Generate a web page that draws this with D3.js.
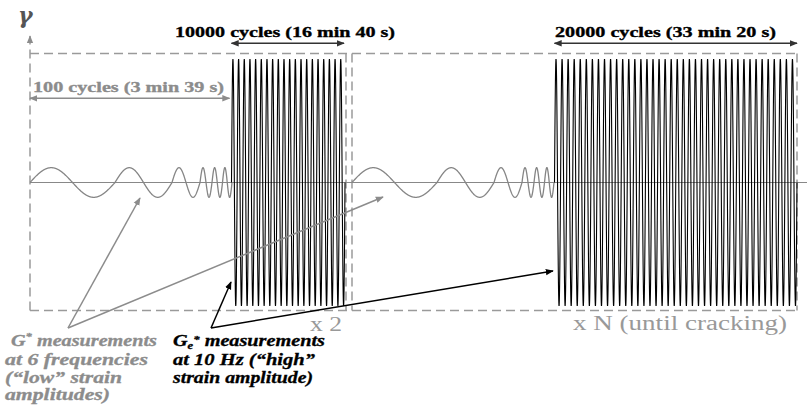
<!DOCTYPE html>
<html>
<head>
<meta charset="utf-8">
<script src="https://cdn.jsdelivr.net/npm/d3@7"></script>
<style>
  body { margin: 0; background: #fff; }
  svg { display: block; }
  svg text { font-family: "Liberation Serif", "Times New Roman", Times, "DejaVu Serif", serif; }
  svg text.gamma { font-family: "DejaVu Serif", serif; }
</style>
</head>
<body>
<div id="chart"></div>
<script>
var svgWidth = 807;
var svgHeight = 407;

// time axis in arbitrary units, strain normalised to the high amplitude
var lowPeriods = [85, 57, 28, 12, 10.5, 9.5];   // one cycle at each of the 6 frequencies
var lowAmplitude = 0.12;
var highAmplitude = 1;
var blockStarts = [0, 322];
var burstStarts = [201.5, 524.5];
var burstEnds = [315, 767];
var burstCycles = [20, 40];
var boxEnds = [316, 767];
var cycleLabels = ["100 cycles (3 min 39 s)", "10000 cycles (16 min 40 s)", "20000 cycles (33 min 20 s)"];
var repeatLabels = ["x 2", "x N (until cracking)"];

var svg = d3.select("#chart")
  .append("svg")
  .attr("width", svgWidth)
  .attr("height", svgHeight);

var x = d3.scaleLinear().domain([0, 777]).range([30, 807]);
var y = d3.scaleLinear().domain([-1, 1]).range([306, 59]);

var gray = "#8c8c8c";
var dashGray = "#9a9a9a";

// markers
var defs = svg.append("defs");
function addMarker(id, color, size) {
  defs.append("marker")
    .attr("id", id)
    .attr("viewBox", "0 0 10 10")
    .attr("refX", 9)
    .attr("refY", 5)
    .attr("markerUnits", "userSpaceOnUse")
    .attr("markerWidth", size)
    .attr("markerHeight", size)
    .attr("orient", "auto-start-reverse")
    .append("path")
    .attr("d", "M0,1 L10,5 L0,9 z")
    .attr("fill", color);
}
addMarker("arrGray", gray, 8);
addMarker("arrBlack", "#000", 8);
addMarker("arrDark", "#333", 8);

var boxTop = 53.5, boxBottom = 310.5;

// dashed frames
var dash = svg.append("g")
  .attr("stroke", dashGray)
  .attr("stroke-width", 1.5)
  .attr("stroke-dasharray", "9,5")
  .attr("fill", "none");

dash.append("line")
  .attr("x1", x(0)).attr("x2", x(0))
  .attr("y1", boxBottom).attr("y2", 36)
  .attr("marker-end", "url(#arrGray)");
dash.append("line")
  .attr("x1", x(0)).attr("x2", x(boxEnds[1]))
  .attr("y1", boxTop).attr("y2", boxTop);
dash.append("line")
  .attr("x1", x(0)).attr("x2", x(boxEnds[1]))
  .attr("y1", boxBottom).attr("y2", boxBottom);
[boxEnds[0], blockStarts[1], boxEnds[1]].forEach(function (t) {
  dash.append("line")
    .attr("x1", x(t)).attr("x2", x(t))
    .attr("y1", boxTop).attr("y2", boxBottom);
});

// time axis
svg.append("line")
  .attr("x1", x(0)).attr("x2", svgWidth)
  .attr("y1", y(0)).attr("y2", y(0))
  .attr("stroke", "#888")
  .attr("stroke-width", 1.2);

var line = d3.line().x(d => x(d[0])).y(d => y(d[1]));

// low strain sweeps
blockStarts.forEach(function (t0) {
  var pts = [];
  var t = t0;
  lowPeriods.forEach(function (p) {
    for (var s = 0; s <= p; s += 0.25) {
      pts.push([t + s, lowAmplitude * Math.sin(2 * Math.PI * s / p)]);
    }
    t += p;
  });
  svg.append("path")
    .attr("d", line(pts))
    .attr("fill", "none")
    .attr("stroke", "#858585")
    .attr("stroke-width", 1.3);
});

// high strain bursts
burstStarts.forEach(function (s0, i) {
  var p = (burstEnds[i] - s0) / burstCycles[i];
  var pts = [];
  for (var s = 0; s <= burstEnds[i] - s0 + 1e-6; s += p / 60) {
    pts.push([s0 + s, highAmplitude * Math.sin(2 * Math.PI * s / p)]);
  }
  svg.append("path")
    .attr("d", line(pts))
    .attr("fill", "none")
    .attr("stroke", "#000")
    .attr("stroke-width", 1.1);
});

// cycle spans
function span(x1, x2, yy, color, marker) {
  svg.append("line")
    .attr("x1", x1).attr("x2", x2)
    .attr("y1", yy).attr("y2", yy)
    .attr("stroke", color)
    .attr("stroke-width", 1.4)
    .attr("marker-start", "url(#" + marker + ")")
    .attr("marker-end", "url(#" + marker + ")");
}
span(x(0), x(burstStarts[0]) - 2, 98.3, gray, "arrGray");
span(x(burstStarts[0]), x(burstEnds[0]) - 1, 43.3, "#333", "arrDark");
span(x(burstStarts[1]), x(boxEnds[1]), 43.3, "#333", "arrDark");

function label(px, py, str, size, color, len, weight) {
  var t = svg.append("text")
    .attr("x", px)
    .attr("y", py)
    .attr("font-size", size)
    .attr("font-weight", weight || "normal")
    .attr("fill", color)
    .attr("textLength", len)
    .attr("lengthAdjust", "spacingAndGlyphs")
    .text(str);
  if (weight) t.attr("stroke", color).attr("stroke-width", 0.35);
  return t;
}
label(33, 92, cycleLabels[0], 15, gray, 191, "bold");
label(175, 37, cycleLabels[1], 15, "#000", 220, "bold");
label(555, 37, cycleLabels[2], 15, "#000", 221, "bold");
label(310, 331, repeatLabels[0], 20, "#999", 32);
label(573, 330, repeatLabels[1], 20, "#999", 214);

// gamma
svg.append("text")
  .attr("class", "gamma")
  .attr("x", 18)
  .attr("y", 23)
  .attr("font-size", 22)
  .attr("font-weight", "bold")
  .attr("font-style", "italic")
  .attr("fill", "#555")
  .text("γ");

// pointer arrows
function pointer(x1, y1, x2, y2, color, marker) {
  svg.append("line")
    .attr("x1", x1).attr("y1", y1)
    .attr("x2", x2).attr("y2", y2)
    .attr("stroke", color)
    .attr("stroke-width", 1.5)
    .attr("marker-end", "url(#" + marker + ")");
}
pointer(68, 328, 140, 198, gray, "arrGray");
pointer(68, 328, 383, 197, gray, "arrGray");
pointer(211, 328, 231, 282, "#000", "arrBlack");
pointer(211, 328, 553, 271, "#000", "arrBlack");

// notes under the chart
function note(px, py, color, len, parts) {
  var t = svg.append("text")
    .attr("x", px)
    .attr("y", py)
    .attr("font-size", 16)
    .attr("font-weight", "bold")
    .attr("font-style", "italic")
    .attr("fill", color)
    .attr("stroke", color)
    .attr("stroke-width", 0.3)
    .attr("textLength", len)
    .attr("lengthAdjust", "spacingAndGlyphs");
  parts.forEach(function (p) {
    var s = t.append("tspan").text(p.t);
    if (p.sup) s.attr("font-size", 10).attr("dy", -6);
    if (p.sub) s.attr("font-size", 10).attr("dy", 3);
    if (p.dy) s.attr("dy", p.dy);
  });
}
note(11, 346, gray, 146, [{t: "G"}, {t: "*", sup: true}, {t: " measurements", dy: 6}]);
note(5, 365, gray, 143, [{t: "at  6 frequencies"}]);
note(5, 383, gray, 117, [{t: "(\u201clow\u201d strain"}]);
note(5, 400, gray, 105, [{t: "amplitudes)"}]);
note(173, 346, "#000", 152, [{t: "G"}, {t: "e", sub: true}, {t: "*", sup: true}, {t: " measurements", dy: 3}]);
note(173, 365, "#000", 142, [{t: "at 10 Hz (\u201chigh\u201d"}]);
note(173, 383, "#000", 140, [{t: "strain amplitude)"}]);
</script>
</body>
</html>
